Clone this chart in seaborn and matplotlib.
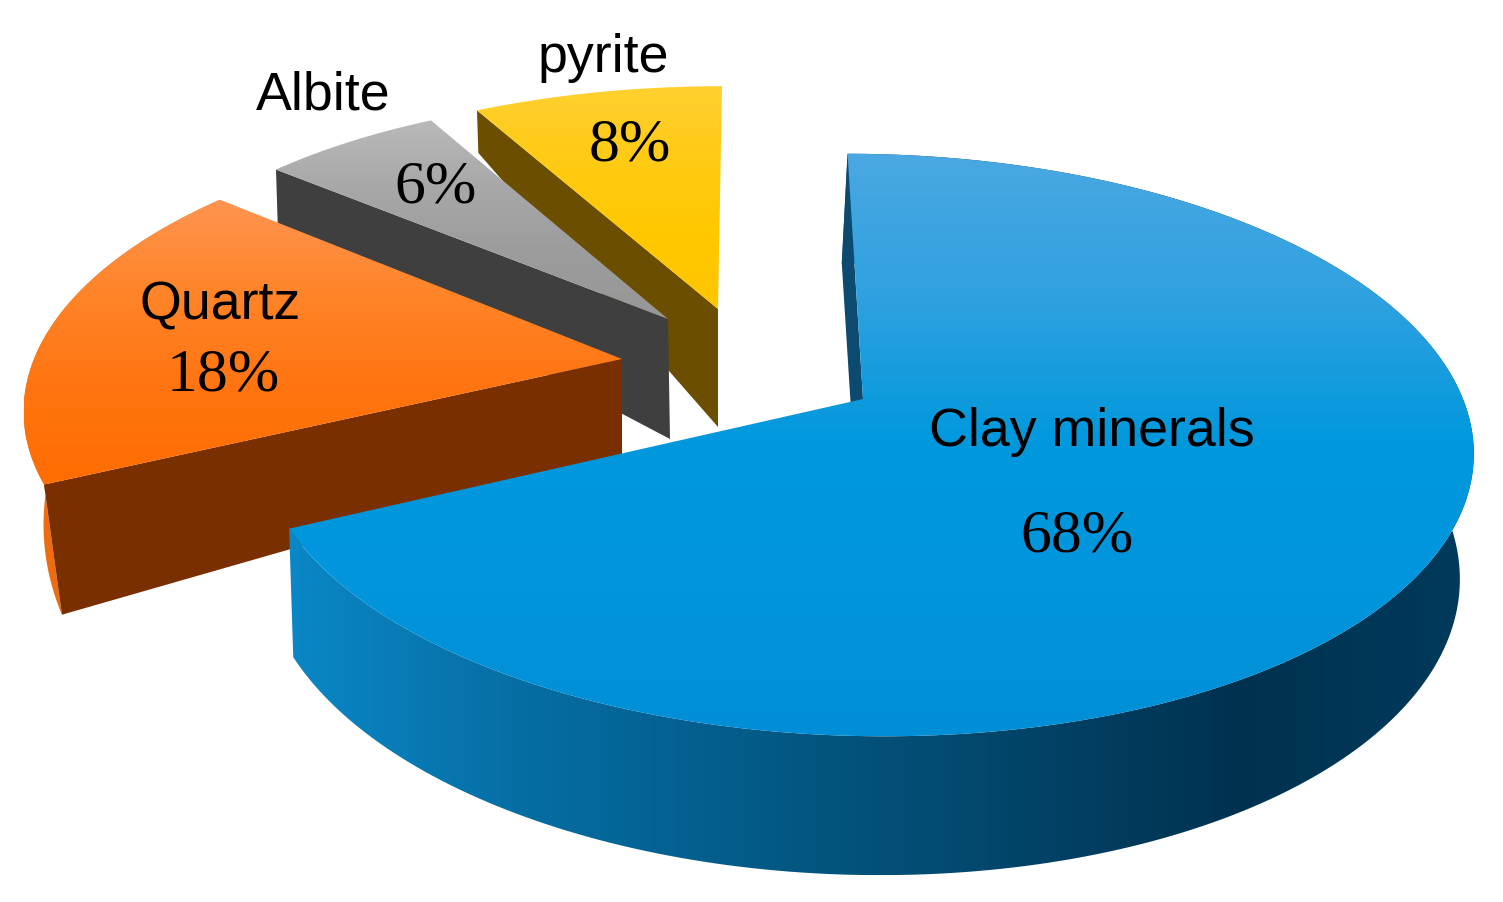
import numpy as np
import seaborn as sns
import matplotlib.pyplot as plt
from matplotlib.patches import Polygon

# pie data, clockwise from 12 o'clock
minerals = ['Clay minerals', 'Quartz', 'Albite', 'pyrite']
shares = [68, 18, 6, 8]
percent_labels = ['68%', '18%', '6%', '8%']

# vertical gradient of the top faces, horizontal gradient of the outer rims
top_colors = [
    ['#4aa8e2', '#2fa1e0', '#0098dd', '#0095dc', '#008fd6'],
    ['#ff9450', '#ff8428', '#ff7410', '#ff6d00'],
    ['#b9b9b9', '#a8a8a8', '#9c9c9c', '#979797'],
    ['#ffd030', '#ffcb14', '#ffc800', '#ffc600'],
]
# only clay and quartz show their outer rim
rim_colors = {
    0: ['#0a87c6', '#066da3', '#035a86', '#02466b', '#003250', '#003a5c'],
    1: ['#ee6c10', '#f07010'],
}
wall_colors = ['#0c4a70', '#7a2f00', '#3f3f3f', '#6b4e00']

# layout of each exploded slice, in pixels
cx = [863, 622, 668, 718]
cy = [400, 360, 320, 310]
rx = [600, 588, 560, 578]
ry = [284, 275, 258, 258]
shear = [0.063, -0.06, 0.0, -0.018]
depth = [122, 95, 120, 118]
bottom_dx = [-5, 0, 2, 0]
x_scale = [0.985, 0.965, 1.0, 1.0]
y_scale = [1.05, 1.28, 1.38, 1.38]
persp = 0.158

label_xy = [(1092, 432), (220, 306), (323, 96), (603, 58)]
pct_xy = [(1077, 537), (223, 376), (436, 188), (630, 146)]

sns.set_theme(style='white')
fig = plt.figure(figsize=(15.03, 9.03), dpi=100)
ax = fig.add_axes([0, 0, 1, 1])
ax.set_xlim(0, 1503)
ax.set_ylim(903, 0)
ax.axis('off')


def project(i, deg, bottom=False):
    t = np.radians(deg)
    w = 1 + persp * np.sin(t)
    dx = rx[i] * np.cos(t) / w
    dy = -ry[i] * np.sin(t) / w
    if bottom:
        dy2 = dy * y_scale[i]
        return cx[i] + bottom_dx[i] + dx * x_scale[i] + shear[i] * dy2, cy[i] + depth[i] + dy2
    return cx[i] + dx + shear[i] * dy, cy[i] + dy


def gradient_fill(pts, colors, vertical=True, zorder=1):
    pts = np.asarray(pts)
    x0, y0 = pts.min(axis=0)
    x1, y1 = pts.max(axis=0)
    ramp = np.array(sns.blend_palette(colors, n_colors=256))
    img = ramp[:, None, :] if vertical else ramp[None, :, :]
    im = ax.imshow(img, extent=(x0, x1, y1, y0), origin='upper', aspect='auto',
                   interpolation='bilinear', zorder=zorder)
    clip = Polygon(pts, closed=True, transform=ax.transData, fc='none', ec='none')
    ax.add_patch(clip)
    im.set_clip_path(clip)


# turn shares into start/end angles
ends = 90 - np.cumsum(shares) * 3.6
starts = np.r_[90, ends[:-1]]

# back slices first so the front ones cover them
z = 1
for i in [3, 2, 1, 0]:
    degs = np.linspace(starts[i], ends[i], 240)
    tx, ty = project(i, degs)
    bx, by = project(i, degs, bottom=True)

    # outer rim
    if i in rim_colors:
        rim = np.c_[np.r_[tx, bx[::-1]], np.r_[ty, by[::-1]]]
        gradient_fill(rim, rim_colors[i], vertical=False, zorder=z)

    # cut wall along the leading edge of the slice
    wall = [(tx[0], ty[0]), (cx[i], cy[i]), (cx[i] + bottom_dx[i], cy[i] + depth[i]), (bx[0], by[0])]
    ax.add_patch(Polygon(wall, closed=True, fc=wall_colors[i], ec='none', zorder=z + 1))

    # top face
    face = np.c_[np.r_[cx[i], tx], np.r_[cy[i], ty]]
    gradient_fill(face, top_colors[i], vertical=True, zorder=z + 2)
    z += 3

ax.set_xlim(0, 1503)
ax.set_ylim(903, 0)

for name, pct, lxy, pxy in zip(minerals, percent_labels, label_xy, pct_xy):
    ax.text(lxy[0], lxy[1], name, family='Liberation Sans', fontsize=38.7, color='black',
            ha='center', va='center', zorder=50)
    ax.text(pxy[0], pxy[1], pct, family='Liberation Serif', fontsize=44.5, color='black',
            ha='center', va='center', zorder=50)

fig.savefig('out.png', dpi=100)
